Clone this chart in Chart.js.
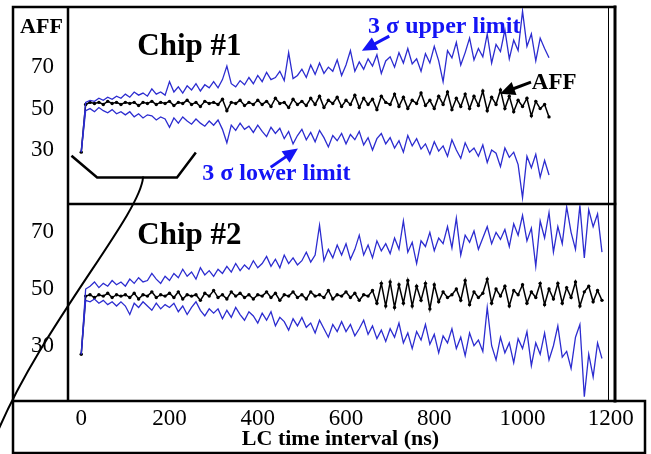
<!DOCTYPE html>
<html>
<head>
<meta charset="utf-8">
<title>AFF vs LC time interval</title>
<script src="https://cdn.jsdelivr.net/npm/chart.js@4.4.1/dist/chart.umd.min.js"></script>
<style>
  html, body { margin: 0; padding: 0; background: #fff; }
  #chart { display: block; }
</style>
</head>
<body>
<canvas id="chart" width="651" height="454"></canvas>
<script>
// LC time interval of each sample (ns)
const lcTime = [
  0, 10, 20, 30, 40, 50, 60, 70, 80, 90,
  100, 110, 120, 130, 140, 150, 160, 170, 180, 190,
  200, 210, 220, 230, 240, 250, 260, 270, 280, 290,
  300, 310, 320, 330, 340, 350, 360, 370, 380, 390,
  400, 410, 420, 430, 440, 450, 460, 470, 480, 490,
  500, 510, 520, 530, 540, 550, 560, 570, 580, 590,
  600, 610, 620, 630, 640, 650, 660, 670, 680, 690,
  700, 710, 720, 730, 740, 750, 760, 770, 780, 790,
  800, 810, 820, 830, 840, 850, 860, 870, 880, 890,
  900, 910, 920, 930, 940, 950, 960, 970, 980, 990,
  1000, 1010, 1020, 1030, 1040, 1050, 1060, 1070, 1080, 1090,
  1100, 1110, 1120, 1130, 1140, 1150, 1160, 1170, 1180
]

// Chip #1 (samples up to 1060 ns)
const chip1Upper = [
  29, 53, 54, 53.5, 55, 54, 55.5, 54.5, 56, 55,
  57, 55.5, 58, 56.5, 57.5, 56, 59.5, 57, 58, 56.5,
  63, 58, 60.5, 57.5, 61, 59, 62, 58.5, 61.5, 60,
  63, 60, 64, 70.5, 62, 60.5, 63.5, 61.5, 65, 62,
  66, 63, 67.5, 64, 65, 68, 63.5, 77, 64.5, 66,
  69, 65, 71, 66.5, 72, 67, 70, 68, 73.5, 66,
  71, 78, 68, 72.5, 69, 74, 70.5, 76, 67, 73,
  75, 70, 77, 72, 79, 71.5, 74, 68, 76.5, 72,
  80, 73, 63, 78, 74.5, 82, 71, 77, 84, 73.5,
  79, 75, 86, 72, 81, 77.5, 88, 74, 83, 78,
  97, 80, 86, 73, 84, 79, 74.5
]
const chip1Aff = [
  29, 52, 53, 52.5, 53, 52, 53.5, 52.5, 53, 52,
  53, 52.5, 53, 51.5, 53, 52.5, 53.5, 52, 53, 52.5,
  53.5, 51.5, 53, 52.5, 54, 52, 53, 51, 53.5, 52.5,
  53, 52, 54.5, 49, 53, 52.5, 54, 51.5, 53, 52,
  54, 52, 53.5, 51, 55, 52.5, 53, 50.5, 54.5, 52,
  53.5, 51.5, 55, 52, 56, 50.5, 54, 52.5, 55.5, 51,
  54, 52, 56.5, 50.5, 55, 52, 54.5, 49.5, 56, 53,
  52, 57, 51, 55.5, 50, 54, 52.5, 57.5, 51.5, 54,
  50, 56, 52, 58, 49.5, 55, 51, 57, 50, 56,
  51.5, 58.5, 49, 55.5, 52, 59, 50, 56, 48.5, 54,
  51, 55, 46.5, 53.5, 50, 52, 46
]
const chip1Lower = [
  29, 49, 50, 48.5, 50.5, 49, 48, 49.5, 47.5, 48.5,
  47, 48.5, 46, 47.5, 45.5, 47, 46.5, 44.5, 46, 45,
  41, 45.5, 43, 46, 44, 42.5, 45, 43, 41.5, 44,
  42, 44.5, 40, 33.5, 42, 39.5, 43, 40, 41.5, 38.5,
  42, 39, 36.5, 41, 38, 40.5, 35.5, 39, 33, 37,
  40, 35, 38.5, 34, 39.5, 36, 31.5, 37, 34.5, 38,
  33, 37.5, 35, 39, 32.5, 36, 30, 35.5, 38, 33,
  36, 31, 34.5, 29, 37, 32, 35.5, 30.5, 33, 28,
  34, 29.5, 32, 27, 35, 30, 26, 33.5, 29, 31,
  27, 32.5, 24, 30, 28.5, 22, 31, 26.5, 29, 23,
  7, 27, 21.5, 28, 17, 25, 18
]

// Chip #2 (samples up to 1180 ns)
const chip2Upper = [
  27, 50, 51, 52.5, 50.5, 52, 51, 53, 51.5, 52.5,
  51, 53.5, 52, 54, 52.5, 53, 55.5, 53.5, 52, 54.5,
  53, 55.5, 54, 57, 54.5, 56, 53.5, 57.5, 55, 56.5,
  54.5, 57, 55.5, 58, 56, 59, 56.5, 58.5, 57, 60,
  57.5, 59, 61.5, 58, 60.5, 57.5, 62, 59, 61, 58.5,
  60, 63, 59.5, 62, 72.5, 60, 64, 61, 65.5, 62,
  66, 60.5, 64, 69, 62, 65.5, 61, 67, 63.5, 66,
  62.5, 68, 64, 74, 63, 66.5, 59, 67, 65, 70,
  63.5, 68, 66, 72, 64.5, 75, 62, 69, 66.5, 70.5,
  64, 68, 72, 66, 70, 67.5, 71, 65, 73, 69,
  76, 67, 71.5, 58, 74, 68, 77, 63, 72, 66,
  79, 70, 64, 79.5, 61, 78, 72, 76.5, 63
]
const chip2Aff = [
  27, 47.5, 48, 47, 48, 47.5, 48.5, 47, 48, 47.5,
  48, 47, 48.5, 46.5, 48, 47.5, 49, 47, 48, 47.5,
  48.5, 47, 49, 46.5, 48, 47.5, 48, 46, 48.5, 47.5,
  49.5, 47, 48, 46.5, 49, 47.5, 48.5, 47, 48, 46.5,
  48, 47.5, 49, 47, 48.5, 46, 48, 47.5, 49, 47,
  48, 46.5, 49, 47.5, 48, 47, 49.5, 46.5, 48, 47.5,
  49, 47, 48.5, 46, 48, 47.5, 49.5, 45, 52, 44,
  52.5, 43.5, 51.5, 45, 53, 44, 51, 46, 52, 43,
  51.5, 45.5, 49, 47, 48, 50, 46, 53, 44.5, 49,
  47, 48.5, 53.5, 45, 50, 47.5, 51, 44, 49.5, 48,
  51.5, 45, 49, 47, 52, 44.5, 50, 46.5, 52, 45,
  50.5, 47, 52.5, 44, 49, 51, 45.5, 49.5, 46
]
const chip2Lower = [
  27, 46, 45.5, 46.5, 45, 46, 44.5, 45.5, 44, 45.5,
  44, 41, 45, 43.5, 45.5, 44, 42.5, 45, 43, 44.5,
  43.5, 45, 42, 44, 41, 43.5, 45.5, 42.5, 40.5, 43,
  41.5, 43, 39.5, 42.5, 40, 43.5, 41, 39, 42, 40.5,
  38, 41.5, 39, 42, 37, 40, 38.5, 35.5, 39.5, 37,
  40, 36.5, 38, 34.5, 39, 36, 33, 37.5, 35, 38.5,
  35, 37.5, 33.5, 36, 39, 34, 37, 32.5, 35.5, 31.5,
  36, 33, 38, 31, 34.5, 29, 35, 32, 37.5, 30.5,
  34, 27.5, 33.5, 31, 36, 29, 33, 26.5, 34.5, 30,
  32, 28, 43.5, 30, 25, 33, 27.5, 31, 24, 32.5,
  29, 35, 23, 31, 27, 34.5, 25, 30, 37, 26,
  28, 22, 33, 37.5, 12, 27, 19, 31, 25.5
]

const xTickValues = [0, 200, 400, 600, 800, 1000, 1200]
const yTickValues = [30, 50, 70]

const serif = "'Liberation Serif', 'Times New Roman', serif"
const blueText = '#1414f5'
const blueLine = '#2c2cd0'

function toPoints(values) {
  return values.map((v, i) => ({ x: lcTime[i], y: v }))
}

function limitSet(values, axis) {
  return {
    data: toPoints(values),
    yAxisID: axis,
    borderColor: blueLine,
    borderWidth: 1.3,
    pointRadius: 0,
    tension: 0,
  }
}

function affSet(values, axis) {
  return {
    data: toPoints(values),
    yAxisID: axis,
    borderColor: '#000',
    borderWidth: 1.5,
    pointRadius: 1.7,
    pointBackgroundColor: '#000',
    pointBorderWidth: 0,
    tension: 0,
  }
}

// text labels and pointer arrows, placed in data units of the given panel
const notes = [
  { text: 'Chip #1', axis: 'chip1', x: 127, y: 76, size: 31, color: '#000' },
  { text: 'Chip #2', axis: 'chip2', x: 127, y: 66, size: 31, color: '#000' },
  { text: '3 σ upper limit', axis: 'chip1', x: 650, y: 86.5, size: 24, color: blueText },
  { text: '3 σ lower limit', axis: 'chip1', x: 274, y: 15.4, size: 24, color: blueText },
  { text: 'AFF', axis: 'chip1', x: 1021, y: 59.6, size: 23, color: '#000' },
]
const pointers = [
  { axis: 'chip1', from: [695, 84.6], to: [636, 77.9], color: blueText },
  { axis: 'chip1', from: [432, 22.1], to: [491, 30.8], color: blueText },
  { axis: 'chip1', from: [1016, 62.5], to: [949, 57.2], color: '#000' },
]
const bracket = [[-20, 26.9], [36, 16.8], [217, 16.8], [258, 28.4]]
const bracketStem = [140, 16.8]

function drawArrow(ctx, x0, y0, x1, y1, color) {
  const ang = Math.atan2(y1 - y0, x1 - x0)
  const head = 15
  const half = 7
  const bx = x1 - head * Math.cos(ang)
  const by = y1 - head * Math.sin(ang)
  ctx.strokeStyle = color
  ctx.fillStyle = color
  ctx.lineWidth = 3
  ctx.beginPath()
  ctx.moveTo(x0, y0)
  ctx.lineTo(bx, by)
  ctx.stroke()
  ctx.beginPath()
  ctx.moveTo(x1, y1)
  ctx.lineTo(bx + half * Math.sin(ang), by - half * Math.cos(ang))
  ctx.lineTo(bx - half * Math.sin(ang), by + half * Math.cos(ang))
  ctx.closePath()
  ctx.fill()
}

const framePlugin = {
  id: 'frame',
  afterDraw(chart) {
    const ctx = chart.ctx
    const { left, right, top, bottom } = chart.chartArea
    const xs = chart.scales.x
    const outerLeft = left - 55
    const boxRight = right + 32
    const boxBottom = chart.height - 1
    const sepY = chart.scales.chip1.bottom

    ctx.save()
    ctx.strokeStyle = '#000'
    ctx.lineCap = 'square'
    ctx.lineWidth = 2.5
    ctx.beginPath()
    ctx.moveTo(outerLeft, top); ctx.lineTo(right + 2, top)
    ctx.moveTo(outerLeft, top); ctx.lineTo(outerLeft, boxBottom)
    ctx.moveTo(left, top); ctx.lineTo(left, bottom)
    ctx.moveTo(left, sepY); ctx.lineTo(right + 2, sepY)
    ctx.moveTo(outerLeft, bottom); ctx.lineTo(boxRight, bottom)
    ctx.lineTo(boxRight, boxBottom); ctx.lineTo(outerLeft, boxBottom)
    ctx.stroke()
    ctx.lineWidth = 3
    ctx.beginPath()
    ctx.moveTo(right + 2, top); ctx.lineTo(right + 2, bottom)
    ctx.stroke()
    ctx.lineWidth = 1
    ctx.beginPath()
    ctx.moveTo(right - 4.5, top); ctx.lineTo(right - 4.5, bottom)
    ctx.stroke()

    // "AFF" axis caption over the tick labels
    ctx.fillStyle = '#000'
    ctx.font = 'bold 22px ' + serif
    ctx.textAlign = 'center'
    ctx.textBaseline = 'alphabetic'
    ctx.fillText('AFF', (outerLeft + left) / 2 + 1, top + 26)

    // bracket under the first samples of chip #1 and its connector
    const ys = chart.scales.chip1
    ctx.lineWidth = 2.5
    ctx.lineJoin = 'miter'
    ctx.beginPath()
    bracket.forEach(([bx, by], i) => {
      const px = xs.getPixelForValue(bx)
      const py = ys.getPixelForValue(by)
      if (i === 0) ctx.moveTo(px, py)
      else ctx.lineTo(px, py)
    })
    ctx.stroke()
    const sx = xs.getPixelForValue(bracketStem[0])
    const sy = ys.getPixelForValue(bracketStem[1])
    ctx.lineWidth = 2
    ctx.beginPath()
    ctx.moveTo(sx, sy)
    ctx.bezierCurveTo(sx - 3, sy + 38, outerLeft + 27, sy + 150, outerLeft - 18, chart.height - 16)
    ctx.stroke()

    notes.forEach((n) => {
      ctx.fillStyle = n.color
      ctx.font = 'bold ' + n.size + 'px ' + serif
      ctx.textAlign = 'left'
      ctx.textBaseline = 'alphabetic'
      ctx.fillText(n.text, xs.getPixelForValue(n.x), chart.scales[n.axis].getPixelForValue(n.y))
    })
    pointers.forEach((p) => {
      const sc = chart.scales[p.axis]
      drawArrow(ctx,
        xs.getPixelForValue(p.from[0]), sc.getPixelForValue(p.from[1]),
        xs.getPixelForValue(p.to[0]), sc.getPixelForValue(p.to[1]),
        p.color)
    })
    ctx.restore()
  },
}

function yAxis(min, max) {
  return {
    type: 'linear',
    position: 'left',
    stack: 'chips',
    stackWeight: 1,
    offset: false,
    min: min,
    max: max,
    grid: { display: false, drawTicks: false },
    border: { display: false },
    afterFit: (scale) => {
      scale.width = 55
      scale.paddingTop = 0
      scale.paddingBottom = 0
    },
    afterBuildTicks: (scale) => { scale.ticks = yTickValues.map((v) => ({ value: v })) },
    ticks: {
      color: '#000',
      padding: 14,
      font: { family: serif, size: 23 },
    },
  }
}

new Chart(document.getElementById('chart'), {
  type: 'line',
  data: {
    datasets: [
      limitSet(chip1Upper, 'chip1'),
      limitSet(chip1Lower, 'chip1'),
      affSet(chip1Aff, 'chip1'),
      limitSet(chip2Upper, 'chip2'),
      limitSet(chip2Lower, 'chip2'),
      affSet(chip2Aff, 'chip2'),
    ],
  },
  options: {
    responsive: false,
    animation: false,
    layout: { padding: { left: 13, right: 38, top: 7, bottom: 0 } },
    plugins: {
      legend: { display: false },
      tooltip: { enabled: false },
    },
    scales: {
      x: {
        type: 'linear',
        min: -30,
        max: 1205,
        grid: { display: false, drawTicks: false },
        border: { display: false },
        afterFit: (scale) => {
          scale.height = 53
          scale.paddingLeft = 0
          scale.paddingRight = 0
        },
        afterBuildTicks: (scale) => { scale.ticks = xTickValues.map((v) => ({ value: v })) },
        ticks: {
          color: '#000',
          padding: 4,
          maxRotation: 0,
          autoSkip: false,
          font: { family: serif, size: 23 },
          callback: (value) => String(value),
        },
        title: {
          display: true,
          text: 'LC time interval (ns)',
          color: '#000',
          padding: { top: 0, bottom: 1 },
          font: { family: serif, size: 22, weight: 'bold' },
        },
      },
      chip2: yAxis(10.5, 80),
      chip1: yAxis(4, 99),
    },
  },
  plugins: [framePlugin],
})
</script>
</body>
</html>
